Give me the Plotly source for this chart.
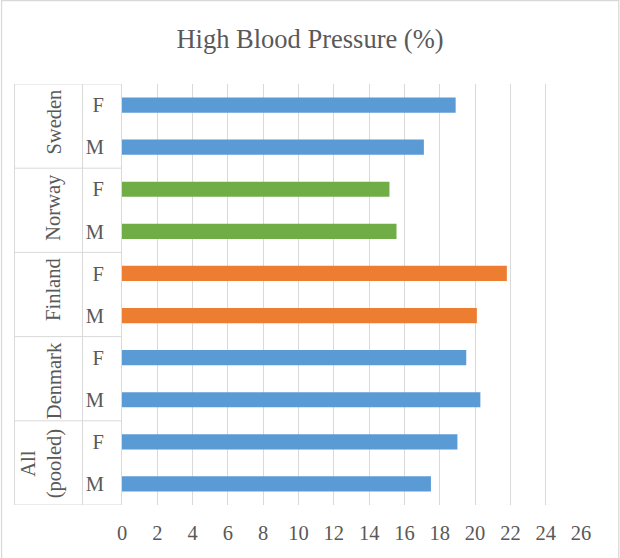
import plotly.graph_objects as go

# Data (bottom to top)
countries = ["All<br>(pooled)", "Denmark", "Finland", "Norway", "Sweden"]
sexes = ["M", "F"]
values = {
    "All<br>(pooled)": [17.5, 19.0],
    "Denmark": [20.3, 19.5],
    "Finland": [20.1, 21.8],
    "Norway": [15.55, 15.15],
    "Sweden": [17.1, 18.9],
}
x_ticks = list(range(0, 27, 2))

color_map = {
    "All<br>(pooled)": "#5B9BD5",
    "Denmark": "#5B9BD5",
    "Finland": "#ED7D31",
    "Norway": "#70AD47",
    "Sweden": "#5B9BD5",
}

cats, xs, ticktext, colors = [], [], [], []
for c in countries:
    for s, v in zip(sexes, values[c]):
        cats.append(f"{c}|{s}")
        xs.append(v)
        ticktext.append(s)
        colors.append(color_map[c])

FONT = "'Liberation Serif', 'Times New Roman', 'DejaVu Serif', serif"
TXT = "#595959"
GRID = "#D9D9D9"

fig = go.Figure(go.Bar(
    x=xs, y=cats, orientation="h",
    marker=dict(color=colors, line=dict(width=0)),
    width=0.36,
))

L, R, T, B = 121.5, 39.3, 84, 53
W, H = 620, 558
pw, ph = W - L - R, H - T - B

def px_x(p):
    return (p - L) / pw

def px_y(p):
    return (H - B - p) / ph

shapes = []
line = dict(color=GRID, width=1)
for xp in (14, 82):
    shapes.append(dict(type="line", xref="paper", yref="paper",
                       x0=px_x(xp), x1=px_x(xp), y0=0, y1=1, line=line))
n = len(countries)
for i in range(n + 1):
    yv = -0.5 + 2 * i
    shapes.append(dict(type="line", xref="paper", yref="y",
                       x0=px_x(14), x1=0, y0=yv, y1=yv, line=line))
shapes.append(dict(type="rect", xref="paper", yref="paper",
                   x0=px_x(1), x1=px_x(618.5), y0=px_y(562), y1=px_y(0.5),
                   line=dict(color=GRID, width=1.3), fillcolor="rgba(0,0,0,0)"))

annotations = []
for i, c in enumerate(countries):
    two = "<br>" in c
    annotations.append(dict(
        text=c, xref="paper", yref="y", x=px_x(41.5 if two else 53),
        y=2 * i + 1.5, yshift=-7 if two else -3.5,
        textangle=-90, showarrow=False, xanchor="center", yanchor="top",
        font=dict(family=FONT, size=20.5, color=TXT),
    ))

fig.update_layout(
    width=W, height=H,
    margin=dict(l=L, r=R, t=T, b=B, pad=0),
    paper_bgcolor="white", plot_bgcolor="white",
    showlegend=False,
    font=dict(family=FONT, color=TXT),
    title=dict(text="High Blood Pressure (%)", x=0.5, xanchor="center",
               y=1 - 39 / H, yanchor="middle",
               font=dict(family=FONT, size=26.5, color=TXT)),
    xaxis=dict(range=[0, 26], tickvals=x_ticks, ticktext=[str(t) for t in x_ticks],
               showgrid=True, gridcolor=GRID, gridwidth=1.3, zeroline=False,
               showline=False, ticks="", ticklabelstandoff=13,
               tickfont=dict(family=FONT, size=20.5, color=TXT), fixedrange=True),
    yaxis=dict(type="category", categoryorder="array", categoryarray=cats,
               tickvals=cats, ticktext=ticktext, range=[-0.5, 9.5],
               showgrid=False, zeroline=False, showline=True, linecolor=GRID,
               linewidth=1, ticks="", ticklabelstandoff=13,
               tickfont=dict(family=FONT, size=20.5, color=TXT)),
    shapes=shapes,
    annotations=annotations,
)

fig.write_html("out.html", config={"displayModeBar": False},
               post_script="document.body.style.margin='0';")
